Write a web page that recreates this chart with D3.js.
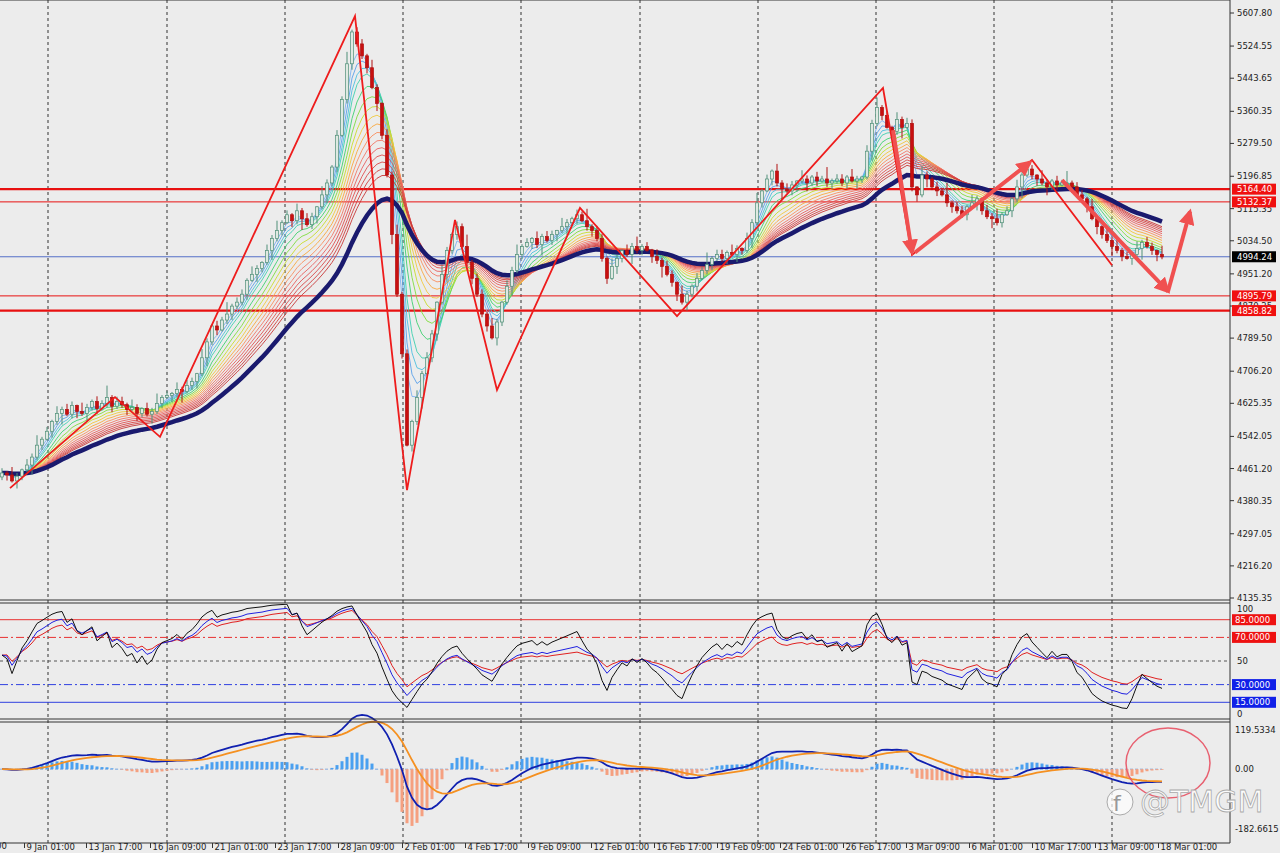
<!doctype html>
<html>
<head>
<meta charset="utf-8">
<script src="https://d3js.org/d3.v7.min.js"></script>
<style>
html,body{margin:0;overflow:hidden;background:#ececec;}
text{font-family:"DejaVu Sans",sans-serif;font-size:8.5px;fill:#222;}
</style>
</head>
<body>
<script>
// closes, one per bar
var closes = [
4450,4445,4430,4442,4458,4470,4490,4520,4535,4555,
4580,4600,4610,4598,4620,4605,4600,4615,4630,4612,
4625,4640,4618,4630,4622,4610,4615,4600,4612,4598,
4605,4625,4640,4645,4650,4660,4655,4670,4680,4700,
4740,4780,4820,4810,4835,4850,4870,4880,4900,4935,
4950,4965,4980,5010,5040,5060,5080,5100,5085,5110,
5090,5075,5095,5120,5150,5180,5220,5300,5390,5480,
5560,5530,5500,5470,5420,5380,5300,5200,5050,4900,
4750,4520,4580,4640,4700,4740,4800,4880,4950,5010,
5050,5070,5020,4980,4940,4900,4850,4820,4790,4830,
4880,4920,4960,5000,5020,5030,5040,5025,5045,5035,
5050,5060,5070,5080,5090,5100,5085,5070,5060,5040,
4990,4940,4970,4990,5010,5000,5020,5010,5020,5010,
4995,4985,4970,4950,4930,4900,4880,4900,4920,4940,
4960,4975,4990,5000,4990,5005,5000,5015,5010,5040,
5080,5130,5160,5190,5210,5180,5165,5160,5175,5185,
5190,5180,5195,5185,5190,5180,5185,5190,5180,5195,
5185,5190,5195,5260,5330,5370,5350,5320,5310,5340,
5320,5330,5170,5150,5200,5190,5170,5160,5150,5130,
5120,5110,5100,5120,5130,5140,5110,5095,5090,5080,
5100,5110,5140,5170,5200,5215,5200,5190,5180,5170,
5185,5175,5180,5180,5170,5150,5140,5120,5090,5070,
5050,5035,5020,5010,4995,4990,5000,5015,5030,5020,
5010,5000,4994];
var firstOpen = 4440;
var wickUp = [12,5,20,8,3,15,9,25,6,11,4,18,7,14,10,2,22,9,5,13,8,30,6,12];
var wickDn = [8,14,4,19,10,6,24,7,12,3,16,9,28,5,11,17,6,21,8,13,4,10,15,7];

var priceTicks = [5607.80,5524.55,5443.65,5360.35,5279.50,5196.85,5115.35,5034.50,4951.20,4870.25,4789.50,4706.20,4625.35,4542.05,4461.20,4380.35,4297.05,4216.20,4135.35];
var levelLines = [ {v:5164.40,c:"#e81010",w:2.2,lab:true},{v:5132.37,c:"#e81010",w:1,lab:true},
  {v:4994.24,c:"#3050c0",w:0.8,lab:"black"},{v:4895.79,c:"#e81010",w:1,lab:true},{v:4858.82,c:"#e81010",w:2.2,lab:true} ];
var gridIdx = [9.2,33,56.6,80.2,103.8,127.6,151.2,174.8,198.4,222];
var timeLabels = ["9 Jan 01:00","13 Jan 17:00","16 Jan 09:00","21 Jan 01:00","23 Jan 17:00","28 Jan 09:00","2 Feb 01:00","4 Feb 17:00","9 Feb 09:00","12 Feb 01:00","16 Feb 17:00","19 Feb 09:00","24 Feb 01:00","26 Feb 17:00","3 Mar 09:00","6 Mar 01:00","10 Mar 17:00","13 Mar 09:00","18 Mar 01:00"];
var timeIdx = [4.6,17,29.8,42.2,54.8,67.4,80.2,92.8,105.4,118,130.6,143.2,155.8,168.4,181,193.6,206.2,218.8,231.4];
var zigzag = [[1.6,4412],[22.6,4641],[31.6,4541],[70.6,5600],[81,4407],[90.6,5087],[99,4659],[115.6,5117],[135,4845],[176.2,5419],[182,4999],[206,5238],[222,4973]];
var arrows = [[[178.2,5313],[182,5005]],[[182.6,5005],[205.6,5232]],[[212,5187],[233.2,4907]],[[233.2,4907],[237.6,5108]]];
var rsiLevels = [{v:85,c:"#e83030",d:null,lab:"85.0000",bg:"#ee1111"},{v:70,c:"#e83030",d:"8,3,2,3",lab:"70.0000",bg:"#ee1111"},
  {v:50,c:"#555",d:"3,3",lab:null},{v:30,c:"#3040e0",d:"8,3,2,3",lab:"30.0000",bg:"#1020e8"},{v:15,c:"#3040e0",d:null,lab:"15.0000",bg:"#1020e8"}];
var emaPeriods = [3,4,5,6,8,10,12,14,16,18,20,22,24,26,28,30];
var emaColors = ["#7fb2f0","#5aa0ea","#4fc0e0","#40d0b0","#40d070","#80dc40","#c8dc30","#f0c840","#f8a840","#f89060","#f07868","#e86060","#e05050","#d84848","#d04040","#c83838"];

var W = 1280, H = 853, AX = 1230;
var svg = d3.select("body").append("svg").attr("width",W).attr("height",H);
svg.append("rect").attr("width",W).attr("height",H).attr("fill","#ececec");

var x = d3.scaleLinear().domain([0,232]).range([2,1162]);
var y = d3.scaleLinear().domain([4135.35,5607.80]).range([598,13]);
var yr = d3.scaleLinear().domain([0,100]).range([720,602]);
var ym = d3.scaleLinear().domain([-182.6615,119.5334]).range([829,730]);

function ema(arr,p){var k=2/(p+1),o=[],v=arr[0];arr.forEach(function(a,i){v=i?a*k+v*(1-k):a;o.push(v);});return o;}
// Wilder RSI, seeded with a neutral average so the first bars do not spike
function rsi(arr,p){var o=[55],g=4,l=3;for(var i=1;i<arr.length;i++){var d=arr[i]-arr[i-1];
  g=(g*(p-1)+Math.max(d,0))/p;l=(l*(p-1)+Math.max(-d,0))/p;o.push(100-100/(1+g/l));}return o;}

var bars = closes.map(function(c,i){var o=i?closes[i-1]:firstOpen;
  return {i:i,o:o,c:c,h:Math.max(o,c)+wickUp[i%wickUp.length],l:Math.min(o,c)-wickDn[i%wickDn.length]};});

svg.append("clipPath").attr("id","rc").append("rect").attr("x",0).attr("y",604).attr("width",AX).attr("height",114);

// grid
gridIdx.forEach(function(gi){svg.append("line").attr("x1",x(gi)).attr("x2",x(gi)).attr("y1",0).attr("y2",843)
  .attr("stroke","#333").attr("stroke-width",1).attr("stroke-dasharray","3,3");});

var line = function(sc){return d3.line().x(function(d,i){return x(i);}).y(function(d){return sc(d);});};

// level lines
levelLines.forEach(function(L){svg.append("line").attr("x1",0).attr("x2",AX).attr("y1",y(L.v)).attr("y2",y(L.v))
  .attr("stroke",L.c).attr("stroke-width",L.w);});

// ribbons
emaPeriods.forEach(function(p,k){svg.append("path").attr("d",line(y)(ema(closes,p)))
  .attr("fill","none").attr("stroke",emaColors[k]).attr("stroke-width",0.9);});
svg.append("path").attr("d",line(y)(ema(closes,38))).attr("fill","none").attr("stroke","#1a1a6e").attr("stroke-width",4.5);

// candles
var cg = svg.append("g");
cg.selectAll("line").data(bars).enter().append("line")
  .attr("x1",function(d){return x(d.i);}).attr("x2",function(d){return x(d.i);})
  .attr("y1",function(d){return y(d.h);}).attr("y2",function(d){return y(d.l);})
  .attr("stroke",function(d){return d.c>=d.o?"#4f8f78":"#b01010";});
cg.selectAll("rect").data(bars).enter().append("rect")
  .attr("x",function(d){return x(d.i)-1.5;}).attr("width",3)
  .attr("y",function(d){return y(Math.max(d.o,d.c));})
  .attr("height",function(d){return Math.max(1,Math.abs(y(d.o)-y(d.c)));})
  .attr("fill",function(d){return d.c>=d.o?"#dfe9e2":"#c81010";})
  .attr("stroke",function(d){return d.c>=d.o?"#4f8f78":"#b01010";}).attr("stroke-width",0.7);

// zigzag
svg.append("path").attr("d",d3.line().x(function(d){return x(d[0]);}).y(function(d){return y(d[1]);})(zigzag))
  .attr("fill","none").attr("stroke","#ee1c1c").attr("stroke-width",1.8);

// arrows
svg.append("defs").append("marker").attr("id","ah").attr("viewBox","0 0 10 10").attr("refX",8).attr("refY",5)
  .attr("markerWidth",4).attr("markerHeight",4).attr("orient","auto")
  .append("path").attr("d","M0,0L10,5L0,10z").attr("fill","#f05050");
arrows.forEach(function(a){svg.append("line").attr("x1",x(a[0][0])).attr("y1",y(a[0][1])).attr("x2",x(a[1][0])).attr("y2",y(a[1][1]))
  .attr("stroke","#f05050").attr("stroke-width",4).attr("marker-end","url(#ah)");});

// RSI panel
rsiLevels.forEach(function(L){svg.append("line").attr("x1",0).attr("x2",AX).attr("y1",yr(L.v)).attr("y2",yr(L.v))
  .attr("stroke",L.c).attr("stroke-width",1).attr("stroke-dasharray",L.d);});
var rg = svg.append("g").attr("clip-path","url(#rc)");
[[rsi(closes,21),"#e02020"],[rsi(closes,14),"#2020e0"],[rsi(closes,8),"#111"]].forEach(function(s){
  rg.append("path").attr("d",line(yr)(s[0])).attr("fill","none").attr("stroke",s[1]).attr("stroke-width",1);});

// MACD panel
var e12=ema(closes,12), e26=ema(closes,26);
var macd = e12.map(function(v,i){return v-e26[i];});
var sig = ema(macd,9);
var hist = macd.map(function(v,i){return (v-sig[i])*1.5;});
svg.append("line").attr("x1",0).attr("x2",x(232)).attr("y1",ym(0)).attr("y2",ym(0)).attr("stroke","#88aadd").attr("stroke-dasharray","3,2");
svg.selectAll(".hb").data(hist).enter().append("rect").attr("class","hb")
  .attr("x",function(d,i){return x(i)-1.5;}).attr("width",3)
  .attr("y",function(d){return Math.min(ym(d),ym(0));}).attr("height",function(d){return Math.abs(ym(d)-ym(0));})
  .attr("fill",function(d){return d>=0?"#4aa0f0":"#f5a080";});
svg.append("path").attr("d",line(ym)(macd)).attr("fill","none").attr("stroke","#1020b0").attr("stroke-width",1.8);
svg.append("path").attr("d",line(ym)(sig)).attr("fill","none").attr("stroke","#f59020").attr("stroke-width",1.8);

// panel frames
[[0,600],[603,719],[722,843]].forEach(function(p){svg.append("line").attr("x1",0).attr("x2",AX).attr("y1",p[0]).attr("y2",p[0]).attr("stroke","#333");
  svg.append("line").attr("x1",0).attr("x2",AX).attr("y1",p[1]).attr("y2",p[1]).attr("stroke","#333");});
svg.append("line").attr("x1",AX).attr("x2",AX).attr("y1",0).attr("y2",843).attr("stroke","#333");

// right axis, price
priceTicks.forEach(function(v){svg.append("line").attr("x1",AX).attr("x2",AX+4).attr("y1",y(v)).attr("y2",y(v)).attr("stroke","#333");
  svg.append("text").attr("x",AX+7).attr("y",y(v)+3).text(v.toFixed(2));});
levelLines.forEach(function(L){if(!L.lab)return;var yy=y(L.v);
  svg.append("rect").attr("x",AX+2).attr("y",yy-5.5).attr("width",44).attr("height",11).attr("fill",L.lab==="black"?"#000":"#f01010");
  svg.append("text").attr("x",AX+7).attr("y",yy+3).style("fill","#fff").text(L.v.toFixed(2));});
// RSI axis
[[609,"100"],[661,"50"],[714,"0"]].forEach(function(t){svg.append("text").attr("x",AX+7).attr("y",t[0]+3).text(t[1]);});
rsiLevels.forEach(function(L){if(!L.lab)return;var yy=yr(L.v);
  svg.append("rect").attr("x",AX+2).attr("y",yy-5.5).attr("width",44).attr("height",11).attr("fill",L.bg);
  svg.append("text").attr("x",AX+5).attr("y",yy+3).style("fill","#fff").text(L.lab);});
// MACD axis
[[119.5334,"119.5334"],[0,"0.00"],[-182.6615,"-182.6615"]].forEach(function(t){svg.append("text").attr("x",AX+5).attr("y",ym(t[0])+3).text(t[1]);});

// time axis
svg.append("text").attr("x",-4).attr("y",849).text("00");
timeLabels.forEach(function(t,k){var xx=x(timeIdx[k])-0.5;
  svg.append("line").attr("x1",xx).attr("x2",xx).attr("y1",843).attr("y2",848).attr("stroke","#333");
  svg.append("text").attr("x",xx+2).attr("y",850).text(t);});

// annotation ellipse and watermark
svg.append("ellipse").attr("cx",1168).attr("cy",763).attr("rx",42).attr("ry",35).attr("fill","none").attr("stroke","#e86070").attr("stroke-width",1.5);
svg.append("text").attr("x",1140).attr("y",812).style("font-size","30px").style("fill","rgba(255,255,255,0.85)")
  .style("stroke","#aaa").style("stroke-width","0.8").text("@TMGM");
svg.append("circle").attr("cx",1120).attr("cy",802).attr("r",13).attr("fill","rgba(255,255,255,0.7)").attr("stroke","#aaa");
svg.append("text").attr("x",1113).attr("y",811).style("font-size","22px").style("fill","#999").text("f");
</script>
</body>
</html>
